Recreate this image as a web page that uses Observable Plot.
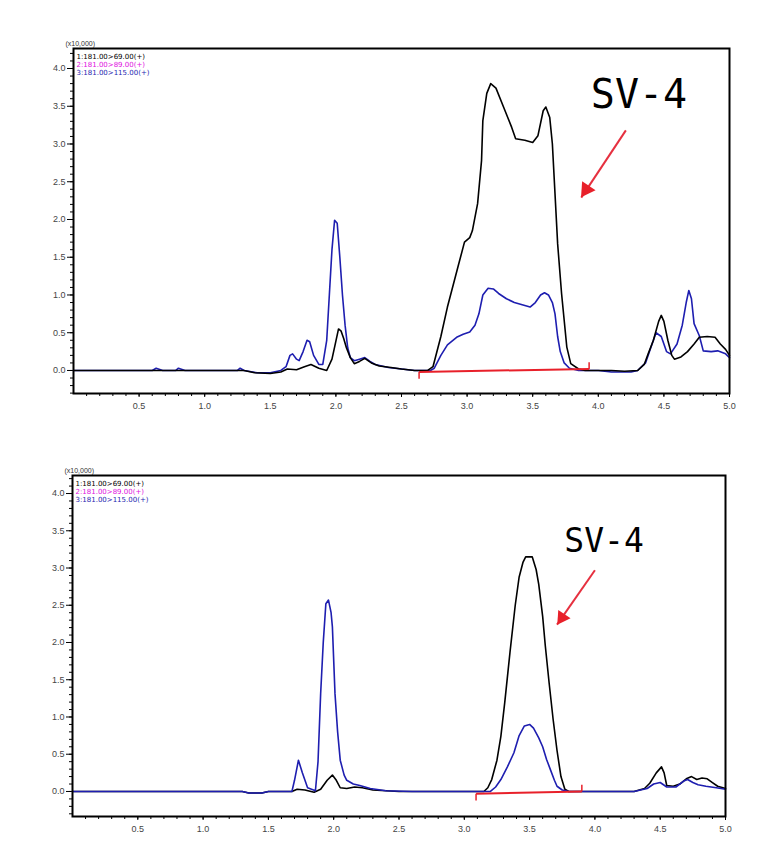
<!DOCTYPE html>
<html><head><meta charset="utf-8">
<script src="https://cdn.jsdelivr.net/npm/d3@7"></script>
<script src="https://cdn.jsdelivr.net/npm/@observablehq/plot@0.6"></script>
<style>
body{margin:0;background:#fff;overflow:hidden;}
#wrap{position:relative;width:765px;height:858px;}
.panel{position:absolute;left:0;}
</style></head><body>
<div id="wrap"><div id="p1" class="panel" style="top:0px"></div><div id="p2" class="panel" style="top:430px"></div></div>
<script>
// ---------- data (time in min, intensity in x10,000) ----------
const xTickLabels = [0.5, 1.0, 1.5, 2.0, 2.5, 3.0, 3.5, 4.0, 4.5, 5.0];
const yTickLabels = [0.0, 0.5, 1.0, 1.5, 2.0, 2.5, 3.0, 3.5, 4.0];
const scaleNote = "(x10,000)";
const legendLabels = ["1:181.00>69.00(+)", "2:181.00>89.00(+)", "3:181.00>115.00(+)"];

const topBlack = [[0,0],[0.5,0],[1.0,0],[1.3,0],[1.38,-0.03],[1.5,-0.04],[1.58,-0.02],[1.63,0.02],[1.7,0.01],[1.76,0.05],[1.81,0.08],[1.87,0.03],[1.93,0.0],[1.97,0.15],[1.99,0.31],[2.02,0.55],[2.04,0.52],[2.06,0.42],[2.08,0.3],[2.11,0.17],[2.14,0.09],[2.18,0.12],[2.22,0.16],[2.27,0.1],[2.33,0.06],[2.42,0.04],[2.5,0.02],[2.6,0.0],[2.7,0.0],[2.74,0.05],[2.8,0.45],[2.85,0.84],[2.93,1.37],[2.98,1.70],[3.02,1.76],[3.04,1.85],[3.08,2.21],[3.11,2.78],[3.12,3.31],[3.15,3.67],[3.18,3.80],[3.22,3.74],[3.28,3.48],[3.34,3.22],[3.37,3.07],[3.44,3.05],[3.50,3.02],[3.54,3.11],[3.58,3.44],[3.60,3.49],[3.63,3.35],[3.65,3.0],[3.67,2.34],[3.69,1.68],[3.72,1.02],[3.76,0.31],[3.79,0.09],[3.85,0.02],[3.9,0.0],[4.0,0.0],[4.1,0.0],[4.2,-0.01],[4.3,0.0],[4.35,0.08],[4.38,0.22],[4.42,0.4],[4.46,0.65],[4.48,0.73],[4.50,0.65],[4.53,0.4],[4.56,0.2],[4.58,0.15],[4.63,0.18],[4.68,0.25],[4.73,0.35],[4.77,0.44],[4.83,0.45],[4.89,0.44],[4.93,0.35],[4.97,0.28],[5.0,0.2]];

const topBlue = [[0,0],[0.6,0],[0.63,0.03],[0.68,0],[0.78,0],[0.8,0.03],[0.85,0],[1.0,0],[1.25,0],[1.27,0.03],[1.3,0],[1.4,-0.03],[1.5,-0.03],[1.58,0],[1.62,0.05],[1.65,0.2],[1.67,0.22],[1.70,0.15],[1.72,0.13],[1.75,0.25],[1.78,0.40],[1.80,0.38],[1.83,0.2],[1.87,0.08],[1.9,0.08],[1.93,0.4],[1.95,1.0],[1.97,1.6],[1.99,1.99],[2.01,1.95],[2.03,1.5],[2.05,1.0],[2.07,0.6],[2.09,0.3],[2.11,0.17],[2.14,0.13],[2.18,0.15],[2.22,0.17],[2.26,0.12],[2.30,0.08],[2.40,0.04],[2.5,0.02],[2.6,0],[2.72,0],[2.75,0.03],[2.8,0.2],[2.85,0.34],[2.92,0.44],[2.97,0.48],[3.02,0.51],[3.06,0.6],[3.09,0.75],[3.12,1.0],[3.16,1.09],[3.20,1.08],[3.24,1.02],[3.30,0.95],[3.36,0.9],[3.42,0.87],[3.48,0.84],[3.52,0.9],[3.56,1.0],[3.59,1.03],[3.62,1.0],[3.65,0.9],[3.67,0.75],[3.69,0.45],[3.71,0.25],[3.74,0.1],[3.78,0.03],[3.85,0],[4.0,0],[4.1,-0.02],[4.25,-0.02],[4.3,0],[4.36,0.1],[4.40,0.3],[4.44,0.5],[4.48,0.45],[4.52,0.25],[4.55,0.22],[4.6,0.35],[4.64,0.6],[4.67,0.9],[4.69,1.06],[4.71,0.95],[4.73,0.62],[4.77,0.46],[4.80,0.26],[4.86,0.25],[4.91,0.26],[4.97,0.22],[5.0,0.17]];

const botBlack = [[0,0],[1.3,0],[1.35,-0.02],[1.45,-0.02],[1.5,0],[1.68,0],[1.72,0.03],[1.78,0.02],[1.85,-0.01],[1.9,0.03],[1.95,0.15],[1.99,0.22],[2.02,0.15],[2.05,0.05],[2.1,0.04],[2.16,0.06],[2.22,0.05],[2.3,0.02],[2.5,0],[3.0,0],[3.15,0],[3.18,0.05],[3.21,0.16],[3.25,0.42],[3.28,0.74],[3.31,1.2],[3.35,1.87],[3.39,2.5],[3.42,2.88],[3.45,3.08],[3.47,3.15],[3.52,3.15],[3.55,2.98],[3.57,2.78],[3.60,2.35],[3.62,1.96],[3.65,1.45],[3.68,0.97],[3.71,0.55],[3.74,0.2],[3.77,0.03],[3.8,0],[4.0,0],[4.3,0],[4.38,0.04],[4.42,0.11],[4.47,0.25],[4.51,0.33],[4.53,0.25],[4.55,0.08],[4.6,0.07],[4.65,0.1],[4.70,0.17],[4.74,0.2],[4.78,0.16],[4.82,0.18],[4.86,0.17],[4.90,0.12],[4.94,0.07],[5.0,0.04]];

const botBlue = [[0,0],[1.3,0],[1.35,-0.02],[1.45,-0.02],[1.5,0],[1.68,0],[1.70,0.15],[1.73,0.42],[1.76,0.25],[1.80,0.05],[1.86,0.01],[1.88,0.4],[1.90,1.31],[1.92,2.0],[1.94,2.52],[1.96,2.57],[1.98,2.40],[1.99,2.21],[2.01,1.31],[2.03,0.8],[2.05,0.42],[2.08,0.22],[2.10,0.15],[2.15,0.1],[2.2,0.08],[2.28,0.04],[2.4,0.01],[2.6,0],[3.0,0],[3.2,0],[3.24,0.06],[3.28,0.16],[3.33,0.33],[3.38,0.52],[3.42,0.75],[3.46,0.88],[3.50,0.90],[3.53,0.85],[3.57,0.72],[3.60,0.60],[3.63,0.43],[3.66,0.29],[3.69,0.15],[3.71,0.07],[3.75,0.02],[3.8,0],[4.3,0],[4.4,0.04],[4.45,0.10],[4.5,0.12],[4.55,0.06],[4.62,0.06],[4.68,0.14],[4.71,0.16],[4.75,0.12],[4.79,0.09],[4.85,0.07],[4.93,0.05],[5.0,0.03]];

// annotations (data coordinates)
const topLabel = [{text: "SV-4", t: 4.31, v: 3.64}];
const botLabel = [{text: "SV-4", t: 4.07, v: 3.36}];
const topArrow = [{t1: 4.21, v1: 3.18, t2: 3.87, v2: 2.29}];
const botArrow = [{t1: 4.00, v1: 2.97, t2: 3.71, v2: 2.24}];
const topBaseline = [{t1: 2.634, v1: -0.02, t2: 3.93, v2: 0.02}];
const botBaseline = [{t1: 3.09, v1: -0.03, t2: 3.90, v2: 0.0}];

// ---------- drawing ----------
const BLACK = "#000000", MAGENTA = "#e010e0", BLUE = "#1e1eb0", RED = "#e8202a", ARROW = "#e6303f";
const legendColors = [BLACK, MAGENTA, BLUE];

function panel(o) {
  const yMinor = d3.range(-4, 44).map(i => i / 10).filter(v => v >= o.yDomain[0] && v <= o.yDomain[1]);
  const xMinor = d3.range(1, 51).map(i => i / 10);
  const fmt = d3.format(".1f");
  return Plot.plot({
    width: 765, height: o.height,
    marginLeft: o.ml, marginRight: o.mr, marginTop: o.mt, marginBottom: o.mb,
    style: {fontFamily: "'Liberation Sans', Arial, sans-serif", fontSize: "9px", background: "#fff", overflow: "visible"},
    x: {domain: [0, 5]},
    y: {domain: o.yDomain},
    marks: [
      Plot.axisX(xMinor, {anchor: "bottom", tickSize: 3, tickFormat: () => "", label: null, stroke: "#000"}),
      Plot.axisX(xTickLabels, {anchor: "bottom", tickSize: 4, tickPadding: 5, tickFormat: fmt, label: null, stroke: "#000", fill: "#444", fontSize: 9}),
      Plot.axisY(yMinor, {anchor: "left", tickSize: 3, tickFormat: () => "", label: null, stroke: "#000"}),
      Plot.axisY(yTickLabels, {anchor: "left", tickSize: 6, tickPadding: 2, tickFormat: fmt, label: null, stroke: "#000", fill: "#444", fontSize: 9}),
      ...o.lines.map(([data, color]) => Plot.line(data, {x: d => d[0], y: d => d[1], stroke: color, strokeWidth: 1.6})),
      Plot.link(o.base, {x1: "t1", y1: "v1", x2: "t2", y2: "v2", stroke: RED, strokeWidth: 2}),
      Plot.link(o.base, {x1: "t1", y1: "v1", x2: "t1", y2: d => d.v1 - 0.09, stroke: RED, strokeWidth: 1.5}),
      Plot.link(o.base, {x1: "t2", y1: "v2", x2: "t2", y2: d => d.v2 + 0.09, stroke: RED, strokeWidth: 1.5}),
      Plot.text(o.label, {x: "t", y: "v", text: "text", fontSize: o.labelSize, fontFamily: "'DejaVu Sans Mono', 'Liberation Mono', monospace", fill: "#000"}),
      Plot.link(o.arrow, {x1: "t1", y1: "v1", x2: "t2", y2: "v2", stroke: ARROW, strokeWidth: 2}),
      Plot.dot(o.arrow, {x: "t2", y: "v2", symbol: "triangle", r: o.headR, rotate: 214, fill: RED, stroke: "none", dx: o.headDx, dy: o.headDy}),
      Plot.text([scaleNote], {frameAnchor: "top-left", text: d => d, dx: -8, dy: -7, fontSize: 7, fill: "#333"}),
      ...legendLabels.map((s, i) => Plot.text([s], {frameAnchor: "top-left", text: d => d, dx: 3, dy: 6 + i * 8, fontSize: 7, fontFamily: "'DejaVu Sans', sans-serif", fill: legendColors[i]})),
      Plot.frame({stroke: "#000", strokeWidth: 2})
    ]
  });
}

document.getElementById("p1").append(panel({
  height: 425, ml: 73, mr: 36, mt: 48, mb: 32,
  yDomain: [-0.305, 4.265],
  lines: [[topBlue, BLUE], [topBlack, BLACK]],
  label: topLabel, labelSize: 40, arrow: topArrow, base: topBaseline,
  headR: 6, headDx: 5, headDy: -8
}));
document.getElementById("p2").append(panel({
  height: 428, ml: 72, mr: 40, mt: 45, mb: 42,
  yDomain: [-0.336, 4.242],
  lines: [[botBlack, BLACK], [botBlue, BLUE]],
  label: botLabel, labelSize: 33, arrow: botArrow, base: botBaseline,
  headR: 5.5, headDx: 5, headDy: -7
}));
</script>
</body></html>
